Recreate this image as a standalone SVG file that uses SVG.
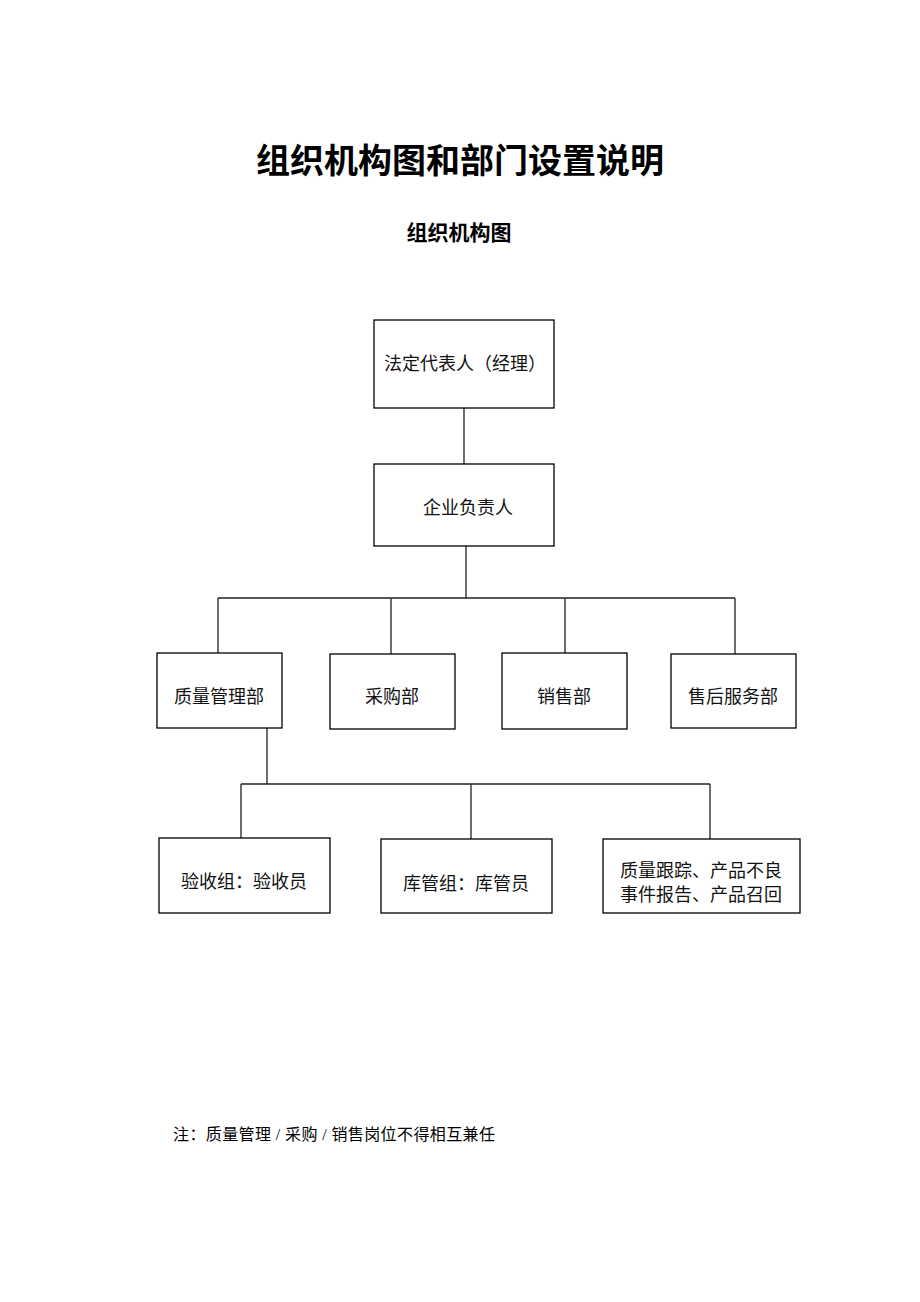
<svg xmlns="http://www.w3.org/2000/svg" width="920" height="1302" viewBox="0 0 920 1302">
<style>
.t{font-family:"Liberation Serif","Noto Sans CJK SC",serif;fill:#000}
.box{fill:#fff;stroke:#000;stroke-width:1.3}
.lbl{font-family:"Liberation Serif","Noto Sans CJK SC",serif;font-size:18px;fill:#111;text-anchor:middle}
.ln{stroke:#222;stroke-width:1.3;fill:none}
</style>
<rect width="920" height="1302" fill="#fff"/>
<text class="t" x="460" y="173" font-size="34" font-weight="bold" text-anchor="middle">组织机构图和部门设置说明</text>
<text class="t" x="459" y="240" font-size="21" font-weight="bold" text-anchor="middle">组织机构图</text>
<g id="connectors">
<path class="ln" d="M464 408V464"/>
<path class="ln" d="M466 546V598M218 598H735M218 598V653M391 598V654M565 598V653M735 598V654"/>
<path class="ln" d="M267 728V784M241 784H710M241 784V838M471 784V839M710 784V839"/>
</g>
<g id="n1"><rect class="box" x="374" y="320" width="180" height="88"/><text class="lbl" x="465" y="370">法定代表人（经理）</text></g>
<g id="n2"><rect class="box" x="374" y="464" width="180" height="82"/><text class="lbl" x="468" y="514">企业负责人</text></g>
<g id="n3"><rect class="box" x="157" y="653" width="125" height="75"/><text class="lbl" x="219" y="703">质量管理部</text></g>
<g id="n4"><rect class="box" x="330" y="654" width="125" height="75"/><text class="lbl" x="392" y="703">采购部</text></g>
<g id="n5"><rect class="box" x="502" y="653" width="125" height="76"/><text class="lbl" x="564" y="703">销售部</text></g>
<g id="n6"><rect class="box" x="671" y="654" width="125" height="74"/><text class="lbl" x="733" y="703">售后服务部</text></g>
<g id="n7"><rect class="box" x="159" y="838" width="171" height="75"/><text class="lbl" x="244" y="888">验收组：验收员</text></g>
<g id="n8"><rect class="box" x="381" y="839" width="171" height="74"/><text class="lbl" x="466" y="890">库管组：库管员</text></g>
<g id="n9"><rect class="box" x="603" y="839" width="197" height="74"/><text class="lbl" x="701" y="877">质量跟踪、产品不良</text><text class="lbl" x="701" y="901">事件报告、产品召回</text></g>
<text class="t" x="173" y="1140" font-size="16" textLength="322" lengthAdjust="spacing">注：质量管理 / 采购 / 销售岗位不得相互兼任</text>
</svg>
